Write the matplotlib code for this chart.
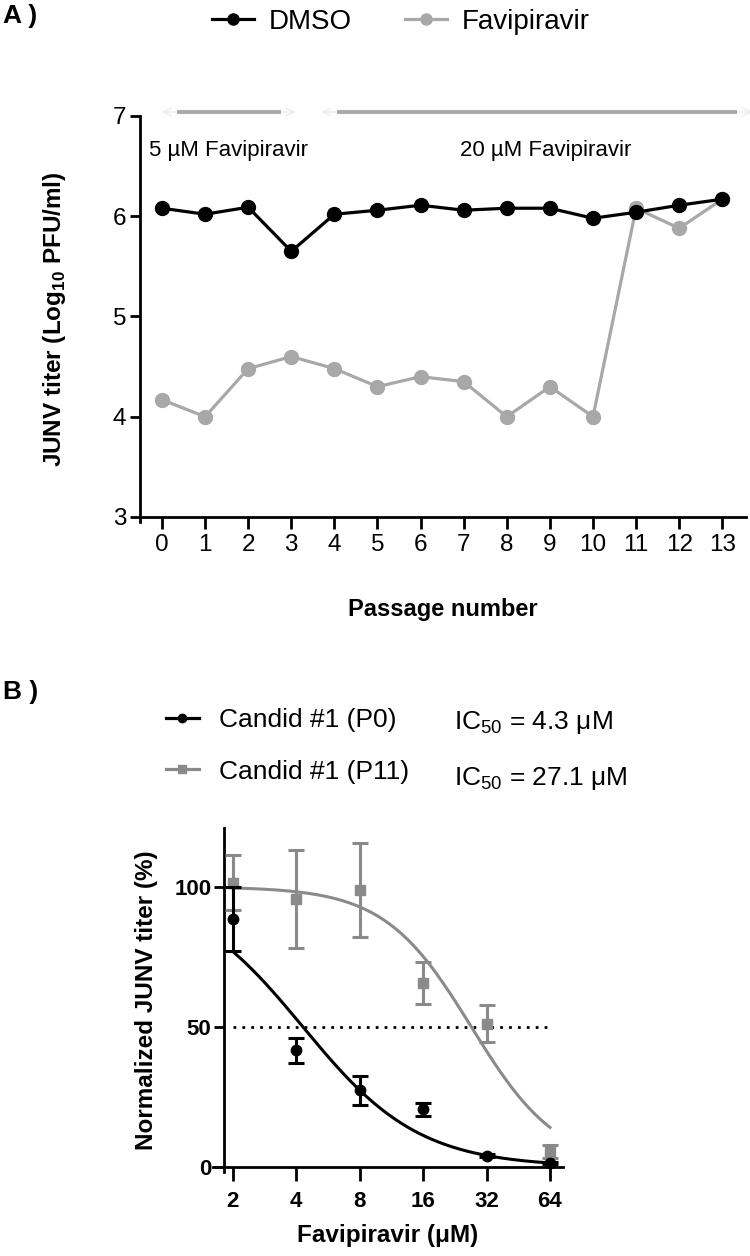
import numpy as np
import matplotlib
matplotlib.use("Agg")
import matplotlib.pyplot as plt
from matplotlib import font_manager
from matplotlib.lines import Line2D

# ----------------------------------------------------------------------------------------------------------------------
#  DATA
# ----------------------------------------------------------------------------------------------------------------------
passage     = [0, 1, 2, 3, 4, 5, 6, 7, 8, 9, 10, 11, 12, 13]
dmso_titer  = [6.08, 6.02, 6.09, 5.65, 6.02, 6.06, 6.11, 6.06, 6.08, 6.08, 5.98, 6.04, 6.11, 6.17]
favi_titer  = [4.17, 4.00, 4.48, 4.60, 4.48, 4.30, 4.40, 4.35, 4.00, 4.30, 4.00, 6.08, 5.88, 6.17]

# treatment windows (passage range) for the annotation bars
windows      = [(0.0, 3.1), (3.7, 13.7)]
window_texts = ['5 µM Favipiravir', '20 µM Favipiravir']

conc       = [2, 4, 8, 16, 32, 64]
p0_mean    = [88.5, 41.6, 27.4, 20.6, 4.0, 1.3]
p0_err     = [11.5, 4.5, 5.2, 2.4, 0.5, 0.4]
p11_mean   = [101.5, 95.6, 98.8, 65.6, 51.2, 5.5]
p11_err    = [9.7, 17.6, 16.8, 7.4, 6.5, 2.2]

# dose response fit parameters (IC50 from the figure, hill slope)
p0_ic50,  p0_hill  = 4.3, 1.57
p11_ic50, p11_hill = 27.1, 2.1

# ----------------------------------------------------------------------------------------------------------------------
#  STYLE
# ----------------------------------------------------------------------------------------------------------------------
names  = {f.name for f in font_manager.fontManager.ttflist}
narrow = 'Liberation Sans Narrow' if 'Liberation Sans Narrow' in names else 'Liberation Sans'
plt.rcParams['font.family'] = ['Liberation Sans', 'DejaVu Sans']
plt.rcParams['mathtext.fontset'] = 'custom'
plt.rcParams['mathtext.rm'] = 'Liberation Sans'
plt.rcParams['mathtext.bf'] = 'Liberation Sans:bold'

light_gray = '#a8a8a8'
mid_gray   = '#8a8a8a'

fig = plt.figure(figsize=(7.5, 12.56), dpi=100)

# ----------------------------------------------------------------------------------------------------------------------
#  PANEL A
# ----------------------------------------------------------------------------------------------------------------------
ax_a = fig.add_axes([140/750, 1 - 522/1256, 606/750, 406/1256])
ax_a.plot(passage, favi_titer, color=light_gray, marker='o', markersize=10, linewidth=2.3,
          label='Favipiravir', clip_on=False, zorder=3)
ax_a.plot(passage, dmso_titer, color='black', marker='o', markersize=10, linewidth=2.3,
          label='DMSO', clip_on=False, zorder=4)
ax_a.set_xlim(-0.51, 13.55)
ax_a.set_ylim(2.95, 7)
ax_a.set_xticks(passage)
ax_a.set_yticks([3, 4, 5, 6, 7])
for spine in ['top', 'right']:
    ax_a.spines[spine].set_visible(False)
ax_a.spines['bottom'].set_position(('data', 3))
for spine in ['left', 'bottom']:
    ax_a.spines[spine].set_linewidth(2.0)
ax_a.tick_params(axis='y', width=2.0, length=7, pad=3)
ax_a.tick_params(axis='x', width=2.0, length=8.5, pad=4)
for lab in ax_a.get_xticklabels() + ax_a.get_yticklabels():
    lab.set_fontfamily(narrow)
    lab.set_fontsize(17.5)
ax_a.set_xlabel('Passage number', fontsize=17, fontweight='bold', labelpad=30)
ax_a.set_ylabel(r'JUNV titer (Log$_{\mathbf{10}}$ PFU/ml)', fontsize=17.5, fontweight='bold', labelpad=32)

for (x0, x1), txt in zip(windows, window_texts):
    ax_a.annotate('', xy=(x0, 7.04), xytext=(x1, 7.04),
                  arrowprops=dict(arrowstyle='<->', color='#ececec', lw=1.0,
                                  shrinkA=0, shrinkB=0, mutation_scale=14),
                  annotation_clip=False, zorder=1)
    ax_a.plot([x0 + 0.35, x1 - 0.35], [7.04, 7.04], color=light_gray, linewidth=2.8,
              clip_on=False, solid_capstyle='butt', zorder=6)
ax_a.text(-0.3, 6.66, window_texts[0], fontsize=16, fontfamily=narrow, ha='left', va='center')
ax_a.text(8.9, 6.66, window_texts[1], fontsize=16, fontfamily=narrow, ha='center', va='center')

handles = [Line2D([], [], color='black', marker='o', markersize=8, linewidth=2.3),
           Line2D([], [], color=light_gray, marker='o', markersize=8, linewidth=2.3)]
fig.legend(handles, ['DMSO', 'Favipiravir'], loc='center left', bbox_to_anchor=(212/750, 1 - 22/1256),
           ncol=2, frameon=False, handlelength=1.5, columnspacing=1.9, handletextpad=0.55,
           borderpad=0, borderaxespad=0, prop={'family': narrow, 'size': 20})
fig.text(0.004, 1 - 16/1256, 'A )', fontsize=19, fontweight='bold', va='center', ha='left')

# ----------------------------------------------------------------------------------------------------------------------
#  PANEL B
# ----------------------------------------------------------------------------------------------------------------------
ax_b = fig.add_axes([213/750, 1 - 1172/1256, 350/750, 344/1256])
x_fit = np.logspace(np.log10(2), np.log10(64), 200)
ax_b.plot(x_fit, 100 / (1 + (x_fit / p11_ic50) ** p11_hill), color=mid_gray, linewidth=2.2, zorder=2)
ax_b.plot(x_fit, 100 / (1 + (x_fit / p0_ic50) ** p0_hill), color='black', linewidth=2.2, zorder=3)
ax_b.plot([2, 66], [50, 50], color='black', linewidth=2.0, linestyle=(0, (1, 2.2)), zorder=1)
ax_b.errorbar(conc, p11_mean, yerr=p11_err, fmt='s', color=mid_gray, markersize=7.5,
              elinewidth=2.2, capsize=6, capthick=2.2, zorder=4, clip_on=False)
ax_b.errorbar(conc, p0_mean, yerr=p0_err, fmt='o', color='black', markersize=7.5,
              elinewidth=2.2, capsize=6, capthick=2.2, zorder=5, clip_on=False)
ax_b.set_xscale('log', base=2)
ax_b.set_xlim(1.61, 73.8)
ax_b.set_ylim(-1.8, 121)
ax_b.set_xticks(conc)
ax_b.set_xticklabels([str(c) for c in conc])
ax_b.minorticks_off()
ax_b.set_yticks([0, 50, 100])
for spine in ['top', 'right']:
    ax_b.spines[spine].set_visible(False)
ax_b.spines['left'].set_position(('data', 1.813))
ax_b.spines['bottom'].set_position(('data', 0))
for spine in ['left', 'bottom']:
    ax_b.spines[spine].set_linewidth(2.0)
ax_b.tick_params(axis='y', width=2.0, length=7, labelsize=16, pad=2)
ax_b.tick_params(axis='x', width=2.0, length=10, labelsize=16, pad=7)
for lab in ax_b.get_xticklabels() + ax_b.get_yticklabels():
    lab.set_fontweight('bold')
ax_b.set_xlabel('Favipiravir (μM)', fontsize=17.5, fontweight='bold', labelpad=9)
ax_b.set_ylabel('Normalized JUNV titer (%)', fontsize=17.5, fontweight='bold', labelpad=12)

handles_b = [Line2D([], [], color='black', marker='o', markersize=6, linewidth=2.3),
             Line2D([], [], color=mid_gray, marker='s', markersize=6, linewidth=2.3)]
fig.legend(handles_b, ['Candid #1 (P0)', 'Candid #1 (P11)'], loc='upper left',
           bbox_to_anchor=(166/750, 1 - 708/1256), frameon=False, handlelength=1.25,
           handletextpad=0.75, labelspacing=1.05, borderpad=0, borderaxespad=0,
           prop={'family': narrow, 'size': 19})
fig.text(454/750, 1 - 723/1256, r'IC$_{50}$ = 4.3 μM', fontsize=19, fontfamily=narrow, va='center')
fig.text(454/750, 1 - 778/1256, r'IC$_{50}$ = 27.1 μM', fontsize=19, fontfamily=narrow, va='center')
fig.text(0.004, 1 - 692/1256, 'B )', fontsize=19, fontweight='bold', va='center', ha='left')

fig.savefig('out.png', dpi=100)
